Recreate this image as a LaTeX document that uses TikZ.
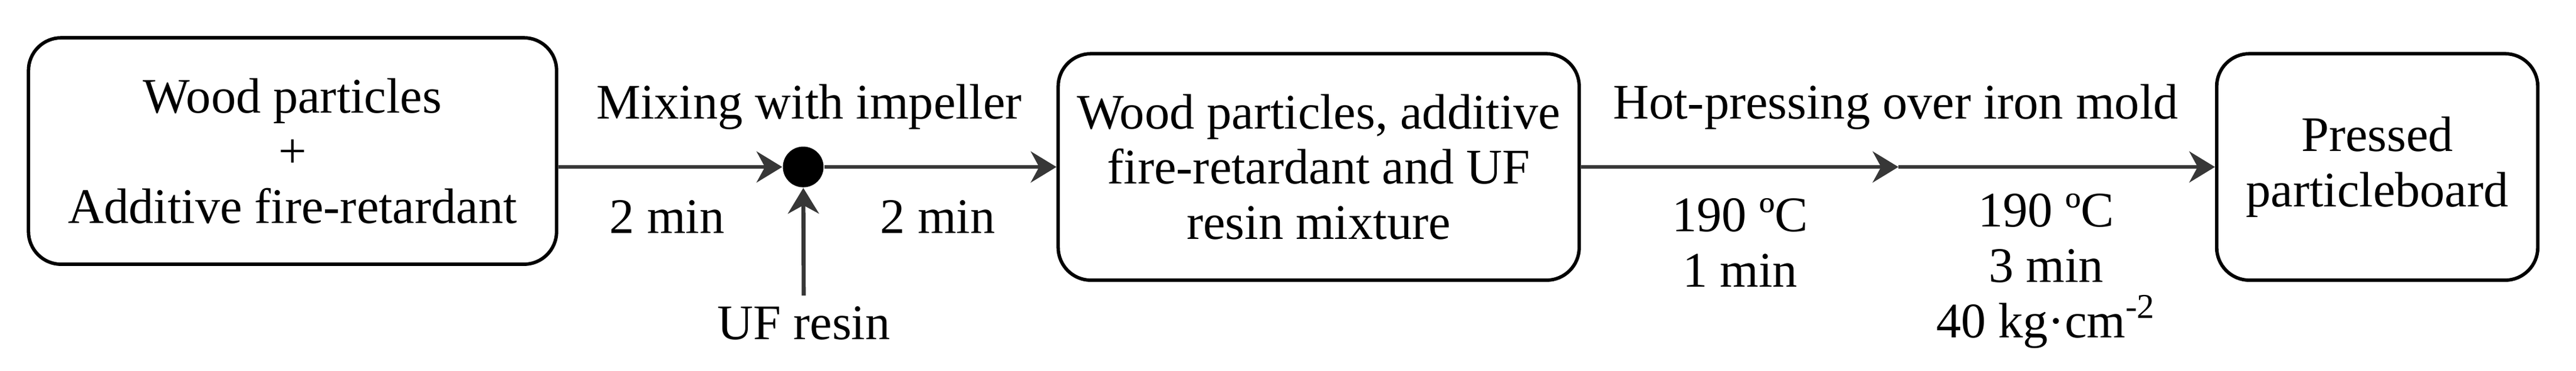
\documentclass[tikz,border=0pt]{standalone}
\usepackage{fontspec}
\setmainfont{Liberation Serif}
\usetikzlibrary{arrows.meta}
\definecolor{flowgray}{RGB}{55,55,55}

\begin{document}
\begin{tikzpicture}[
  every node/.style={font=\fontsize{16}{17.8}\selectfont},
  stage/.style={draw, line width=1.1pt, rounded corners=0.37cm, align=center, minimum height=2.56cm},
  flow/.style={-{Stealth[length=0.29cm, width=0.35cm]}, line width=1.3pt, flowgray},
  note/.style={align=center}]
  \useasboundingbox (0,0) rectangle (29.12,-4.193);

  % Boxes
  \node[stage, minimum width=5.97cm] (mix0) at (3.307,-1.707)
    {Wood particles\\+\\Additive fire-retardant};
  \node[stage, minimum width=5.89cm] (mix1) at (14.907,-1.887)
    {Wood particles, additive\\fire-retardant and UF\\resin mixture};
  \node[stage, minimum width=3.63cm] (board) at (26.873,-1.887)
    {Pressed\\particleboard};

  % Mixing point
  \node[circle, fill=black, inner sep=0pt, minimum size=0.46cm] (dot) at (9.08,-1.887) {};
  \node (uf) at (9.087,-3.653) {UF resin};
  \coordinate (press) at (21.46,-1.887);

  % Flow
  \draw[flow] (mix0.east |- dot) -- (dot);
  \draw[flow] (dot) -- (mix1);
  \draw[flow] (uf) -- (dot);
  \draw[flow] (mix1) -- (press);
  \draw[flow] (press) -- (board);

  % Labels
  \node (lbmix) at (9.147,-1.207) {Mixing with impeller};
  \node (t1) at (7.54,-2.447) {2 min};
  \node (t2) at (10.6,-2.447) {2 min};
  \node (lbpress) at (21.43,-1.207) {Hot-pressing over iron mold};
  \node[note] (cond1) at (19.67,-2.743) {190 ºC\\1 min};
  \node[note] (cond2) at (23.13,-3.063) {190 ºC\\3 min\\40 kg·cm\textsuperscript{-2}};
\end{tikzpicture}
\end{document}
